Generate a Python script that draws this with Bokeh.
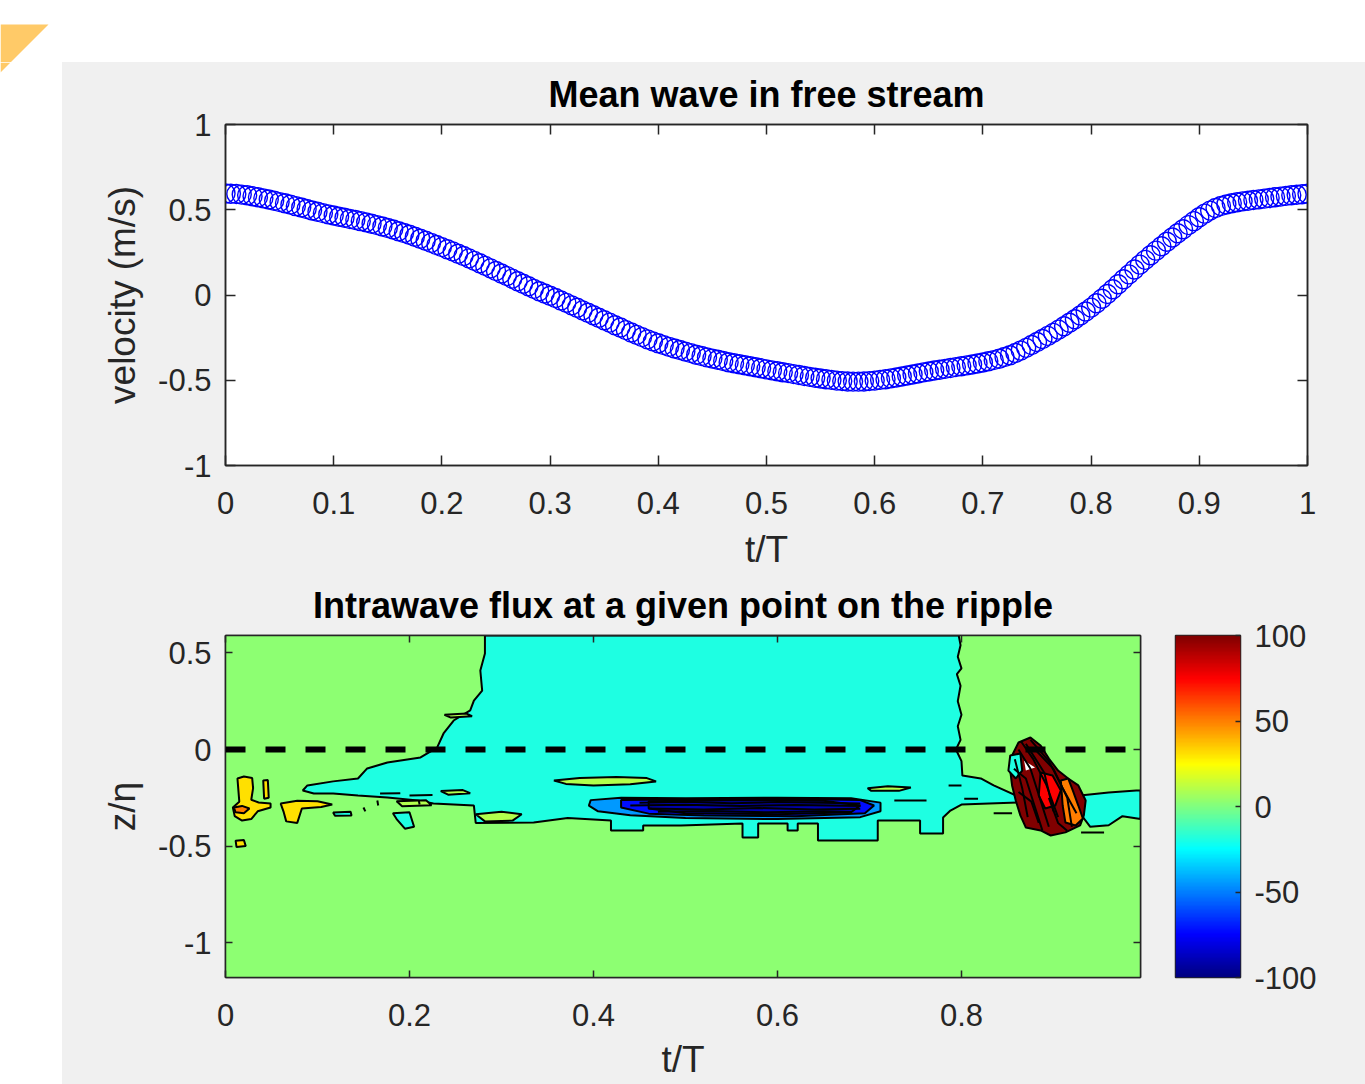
import numpy as np
from bokeh.plotting import figure
from bokeh.layouts import column, row
from bokeh.models import (Range1d, LinearAxis, FixedTicker, NumeralTickFormatter,
                          CustomJSTickFormatter, LinearColorMapper, ColumnDataSource, Span)
from bokeh.transform import transform
from bokeh.embed import file_html
from bokeh.resources import INLINE

# ---------------------------------------------------------------- data
wave_t = [round(i * 0.005, 3) for i in range(201)]
wave_velocity = [
    0.595, 0.594, 0.592, 0.589, 0.585, 0.579, 0.573, 0.567, 0.560, 0.553,
    0.545, 0.538, 0.530, 0.521, 0.513, 0.504, 0.496, 0.488, 0.480, 0.473,
    0.466, 0.459, 0.453, 0.446, 0.440, 0.433, 0.426, 0.418, 0.410, 0.402,
    0.393, 0.384, 0.374, 0.364, 0.353, 0.342, 0.330, 0.318, 0.306, 0.293,
    0.281, 0.268, 0.256, 0.242, 0.229, 0.215, 0.200, 0.186, 0.171, 0.156,
    0.141, 0.126, 0.111, 0.096, 0.081, 0.066, 0.051, 0.036, 0.022, 0.009,
    -0.004, -0.018, -0.032, -0.046, -0.061, -0.075, -0.090, -0.104, -0.119, -0.133,
    -0.148, -0.162, -0.177, -0.191, -0.206, -0.220, -0.234, -0.247, -0.260, -0.272,
    -0.283, -0.294, -0.304, -0.314, -0.323, -0.332, -0.341, -0.350, -0.358, -0.366,
    -0.373, -0.380, -0.387, -0.394, -0.400, -0.406, -0.412, -0.418, -0.424, -0.430,
    -0.436, -0.442, -0.447, -0.453, -0.458, -0.464, -0.469, -0.475, -0.480, -0.485,
    -0.490, -0.494, -0.498, -0.502, -0.505, -0.507, -0.508, -0.508, -0.507, -0.505,
    -0.502, -0.498, -0.494, -0.489, -0.484, -0.478, -0.472, -0.466, -0.460, -0.454,
    -0.449, -0.443, -0.438, -0.433, -0.428, -0.423, -0.418, -0.413, -0.408, -0.402,
    -0.396, -0.389, -0.382, -0.374, -0.364, -0.353, -0.340, -0.326, -0.310, -0.293,
    -0.276, -0.258, -0.240, -0.222, -0.203, -0.183, -0.163, -0.142, -0.120, -0.097,
    -0.074, -0.048, -0.022, 0.006, 0.034, 0.063, 0.092, 0.121, 0.150, 0.178,
    0.206, 0.233, 0.260, 0.286, 0.312, 0.337, 0.362, 0.386, 0.410, 0.433,
    0.456, 0.477, 0.495, 0.510, 0.522, 0.531, 0.538, 0.544, 0.549, 0.553,
    0.557, 0.561, 0.565, 0.569, 0.573, 0.577, 0.581, 0.585, 0.588, 0.591,
    0.594,
]

top_x_ticks = [0, 0.1, 0.2, 0.3, 0.4, 0.5, 0.6, 0.7, 0.8, 0.9, 1]
top_y_ticks = [-1, -0.5, 0, 0.5, 1]
bottom_x_ticks = [0, 0.2, 0.4, 0.6, 0.8]
bottom_y_ticks = [-1, -0.5, 0, 0.5]
colorbar_ticks = [-100, -50, 0, 50, 100]

field_t_extent = [0.0, 0.9946]
field_z_extent = [-1.18, 0.59]

# flux levels of the filled contour regions
level_background = 3
level_cyan = -19
level_lens = 10
level_blue_outer = -45
level_blue_mid = -72
level_blue_inner = -90
level_yellow = 31
level_orange = 50
level_red = 75
level_darkred = 100

# region outlines as (t/T, z/eta)
cyan_main = [(0.282, 0.590), (0.797, 0.590), (0.799, 0.540), (0.796, 0.480), (0.800, 0.420),
             (0.795, 0.390), (0.799, 0.330), (0.796, 0.250), (0.800, 0.180), (0.796, 0.120),
             (0.799, 0.050), (0.794, 0.000), (0.800, -0.060), (0.801, -0.135), (0.821, -0.150),
             (0.835, -0.186), (0.864, -0.248), (0.864, -0.274), (0.830, -0.280), (0.800, -0.285),
             (0.788, -0.316), (0.780, -0.352), (0.780, -0.435), (0.755, -0.435), (0.755, -0.367),
             (0.709, -0.367), (0.709, -0.471), (0.644, -0.471), (0.644, -0.383), (0.622, -0.383),
             (0.622, -0.419), (0.611, -0.419), (0.611, -0.383), (0.579, -0.383), (0.579, -0.455),
             (0.562, -0.455), (0.562, -0.383), (0.495, -0.393), (0.454, -0.393), (0.454, -0.419),
             (0.419, -0.419), (0.419, -0.367), (0.372, -0.355), (0.335, -0.378), (0.272, -0.380),
             (0.270, -0.290), (0.226, -0.279), (0.209, -0.264), (0.176, -0.248), (0.144, -0.238),
             (0.117, -0.228), (0.096, -0.228), (0.084, -0.212), (0.089, -0.186), (0.117, -0.165),
             (0.144, -0.150), (0.154, -0.098), (0.176, -0.067), (0.212, -0.041), (0.230, 0.010),
             (0.237, 0.083), (0.248, 0.150), (0.266, 0.202), (0.270, 0.253), (0.279, 0.305),
             (0.277, 0.409), (0.282, 0.497)]
cyan_right = [(0.929, -0.238), (0.960, -0.222), (0.990, -0.212), (0.9946, -0.212), (0.9946, -0.360),
              (0.975, -0.345), (0.960, -0.392), (0.940, -0.400), (0.932, -0.350)]
cyan_dot_a = [(0.117, -0.326), (0.136, -0.322), (0.137, -0.341), (0.119, -0.343)]
cyan_dot_b = [(0.182, -0.330), (0.200, -0.325), (0.205, -0.400), (0.195, -0.410), (0.186, -0.360)]

lens_a = [(0.357, -0.160), (0.385, -0.147), (0.425, -0.142), (0.458, -0.148), (0.468, -0.165),
          (0.440, -0.180), (0.400, -0.186), (0.370, -0.178)]
lens_b = [(0.272, -0.335), (0.300, -0.322), (0.322, -0.335), (0.312, -0.368), (0.282, -0.372)]
lens_c = [(0.698, -0.200), (0.720, -0.190), (0.745, -0.197), (0.732, -0.214), (0.702, -0.214)]
lens_d = [(0.234, -0.215), (0.258, -0.210), (0.266, -0.226), (0.242, -0.234)]
lens_e = [(0.186, -0.268), (0.218, -0.263), (0.224, -0.288), (0.192, -0.294)]
lens_f = [(0.238, 0.180), (0.262, 0.186), (0.268, 0.172), (0.245, 0.165)]

band_outer = [(0.397, -0.262), (0.430, -0.250), (0.500, -0.252), (0.600, -0.250), (0.680, -0.252),
              (0.712, -0.275), (0.712, -0.320), (0.690, -0.350), (0.600, -0.360), (0.500, -0.355),
              (0.440, -0.340), (0.405, -0.320), (0.395, -0.290)]
band_mid = [(0.430, -0.262), (0.520, -0.258), (0.620, -0.256), (0.690, -0.262), (0.705, -0.290),
            (0.695, -0.330), (0.620, -0.345), (0.520, -0.342), (0.460, -0.332), (0.430, -0.300)]
band_inner = [(0.460, -0.268), (0.560, -0.262), (0.650, -0.265), (0.690, -0.290), (0.680, -0.325),
              (0.600, -0.335), (0.500, -0.330), (0.460, -0.305)]

yellow_a = [(0.013, -0.150), (0.020, -0.140), (0.029, -0.148), (0.030, -0.200), (0.028, -0.260),
            (0.036, -0.274), (0.049, -0.280), (0.049, -0.300), (0.035, -0.320), (0.028, -0.360),
            (0.018, -0.368), (0.010, -0.345), (0.008, -0.300), (0.015, -0.270), (0.014, -0.210)]
orange_a = [(0.009, -0.300), (0.018, -0.292), (0.026, -0.305), (0.020, -0.330), (0.011, -0.325)]
yellow_b = [(0.041, -0.160), (0.046, -0.158), (0.047, -0.250), (0.042, -0.255)]
yellow_c = [(0.060, -0.280), (0.078, -0.265), (0.100, -0.268), (0.116, -0.285), (0.104, -0.298),
            (0.083, -0.305), (0.078, -0.380), (0.066, -0.372), (0.063, -0.320)]
yellow_d = [(0.011, -0.472), (0.020, -0.468), (0.022, -0.500), (0.012, -0.505)]

blob_outer = [(0.862, 0.036), (0.875, 0.062), (0.886, 0.021), (0.895, -0.047), (0.905, -0.109),
              (0.916, -0.150), (0.927, -0.186), (0.935, -0.264), (0.933, -0.341), (0.929, -0.393),
              (0.913, -0.429), (0.897, -0.445), (0.886, -0.419), (0.870, -0.404), (0.864, -0.341),
              (0.859, -0.264), (0.855, -0.186), (0.853, -0.109), (0.855, -0.031)]
blob_red = [(0.886, -0.119), (0.899, -0.135), (0.908, -0.212), (0.902, -0.290), (0.891, -0.305),
            (0.884, -0.238)]
blob_orange = [(0.908, -0.160), (0.916, -0.150), (0.921, -0.212), (0.927, -0.290), (0.932, -0.357),
               (0.924, -0.393), (0.913, -0.378), (0.910, -0.290)]
blob_cyan = [(0.853, -0.031), (0.864, -0.021), (0.866, -0.109), (0.859, -0.150), (0.851, -0.109)]
blob_white = [(0.868, -0.057), (0.880, -0.093), (0.870, -0.109)]

contour_fragments = [
    [(0.168, -0.228), (0.190, -0.226)], [(0.200, -0.238), (0.225, -0.236)],
    [(0.165, -0.264), (0.166, -0.290)], [(0.210, -0.262), (0.211, -0.285)],
    [(0.150, -0.300), (0.152, -0.320)], [(0.930, -0.430), (0.955, -0.430)],
    [(0.835, -0.330), (0.855, -0.330)], [(0.786, -0.186), (0.800, -0.186)],
    [(0.727, -0.264), (0.762, -0.264)], [(0.803, -0.255), (0.818, -0.255)],
    [(0.862, 0.000), (0.875, -0.100), (0.885, -0.250), (0.895, -0.400)],
    [(0.870, 0.030), (0.890, -0.120), (0.900, -0.320)],
    [(0.880, 0.000), (0.900, -0.100), (0.915, -0.250), (0.920, -0.400)],
    [(0.858, -0.050), (0.866, -0.200), (0.872, -0.350)],
    [(0.865, 0.040), (0.878, -0.050), (0.892, -0.180), (0.905, -0.350)],
    [(0.875, 0.050), (0.895, -0.060), (0.910, -0.200), (0.925, -0.330)],
    [(0.857, -0.100), (0.870, -0.150), (0.880, -0.300), (0.888, -0.420)],
    [(0.862, -0.220), (0.876, -0.270), (0.884, -0.380)],
    [(0.895, -0.250), (0.905, -0.380), (0.915, -0.420)],
    [(0.450, -0.275), (0.500, -0.270), (0.550, -0.278), (0.600, -0.272), (0.650, -0.276), (0.690, -0.280)],
    [(0.440, -0.290), (0.500, -0.286), (0.560, -0.292), (0.620, -0.287), (0.690, -0.292)],
    [(0.460, -0.305), (0.520, -0.310), (0.580, -0.303), (0.640, -0.310), (0.690, -0.306)],
    [(0.470, -0.322), (0.530, -0.318), (0.590, -0.325), (0.650, -0.320), (0.680, -0.324)],
]

filled_regions = [
    (level_cyan, cyan_main), (level_cyan, cyan_right), (level_cyan, cyan_dot_a), (level_cyan, cyan_dot_b),
    (level_lens, lens_a), (level_lens, lens_b), (level_lens, lens_c), (level_lens, lens_d),
    (level_lens, lens_e), (level_lens, lens_f),
    (level_blue_outer, band_outer), (level_blue_mid, band_mid), (level_blue_inner, band_inner),
    (level_yellow, yellow_a), (level_orange, orange_a), (level_yellow, yellow_b),
    (level_yellow, yellow_c), (level_yellow, yellow_d),
    (level_darkred, blob_outer), (level_red, blob_red), (level_orange, blob_orange),
    (level_cyan, blob_cyan),
]

# ---------------------------------------------------------------- helpers
FONT = "Liberation Sans"
AX = "#262626"
PANEL = "#f0f0f0"


def jet_palette(n=256):
    out = []
    for i in range(n):
        f = i / (n - 1)
        r = min(max(1.5 - abs(4 * f - 3), 0), 1)
        g = min(max(1.5 - abs(4 * f - 2), 0), 1)
        b = min(max(1.5 - abs(4 * f - 1), 0), 1)
        out.append("#%02x%02x%02x" % (round(r * 255), round(g * 255), round(b * 255)))
    return out


JET = jet_palette(256)
mapper = LinearColorMapper(palette=JET, low=colorbar_ticks[0], high=colorbar_ticks[-1])


def style_axis(ax, ticks, tick_len, fmt="0.[0]", label_standoff=14, tick_standoff=14):
    ax.ticker = FixedTicker(ticks=ticks)
    ax.formatter = NumeralTickFormatter(format=fmt)
    ax.major_tick_in = tick_len
    ax.major_tick_out = 0
    ax.minor_tick_line_color = None
    ax.major_tick_line_color = AX
    ax.major_tick_line_width = 1.5
    ax.axis_line_color = AX
    ax.axis_line_width = 1.5
    ax.major_label_text_font = FONT
    ax.major_label_text_font_size = "31px"
    ax.major_label_text_color = AX
    ax.major_label_standoff = tick_standoff
    ax.axis_label_text_font = FONT
    ax.axis_label_text_font_size = "37px"
    ax.axis_label_text_font_style = "normal"
    ax.axis_label_text_color = AX
    ax.axis_label_standoff = label_standoff


def box_axis(p, ticks, tick_len, side):
    ax = LinearAxis(ticker=FixedTicker(ticks=ticks),
                    formatter=CustomJSTickFormatter(code="return ''"),
                    major_tick_in=tick_len, major_tick_out=0, minor_tick_line_color=None,
                    major_tick_line_color=AX, major_tick_line_width=1.5,
                    axis_line_color=AX, axis_line_width=1.5,
                    major_label_text_font_size="0px", major_label_standoff=0)
    p.add_layout(ax, side)


def blank(w, h):
    f = figure(width=w, height=h, x_range=Range1d(0, w), y_range=Range1d(h, 0),
               x_axis_location=None, y_axis_location=None, toolbar_location=None,
               output_backend="svg", min_border=0, outline_line_color=None,
               background_fill_color="white", border_fill_color="white")
    f.grid.visible = False
    return f


def style_title(p, text, standoff):
    p.title.text = text
    p.title.align = "center"
    p.title.text_font = FONT
    p.title.text_font_size = "36px"
    p.title.text_font_style = "bold"
    p.title.text_color = "black"
    p.title.standoff = standoff


# ---------------------------------------------------------------- top: mean wave
p1 = figure(x_range=Range1d(0, 1), y_range=Range1d(-1, 1),
            frame_width=1082, frame_height=341,
            min_border_left=163, min_border_right=58, min_border_top=62, min_border_bottom=107,
            toolbar_location=None, output_backend="svg",
            background_fill_color="white", border_fill_color=PANEL,
            outline_line_color=AX, outline_line_width=1.5)
p1.grid.visible = False
style_title(p1, "Mean wave in free stream", 19)
style_axis(p1.xaxis[0], top_x_ticks, 10, tick_standoff=26, label_standoff=12)
style_axis(p1.yaxis[0], top_y_ticks, 10, tick_standoff=14, label_standoff=12)
p1.xaxis.axis_label = "t/T"
p1.yaxis.axis_label = "velocity (m/s)"
box_axis(p1, top_x_ticks, 10, "above")
box_axis(p1, top_y_ticks, 10, "right")
p1.scatter(wave_t, wave_velocity, marker="circle", size=19, fill_color=None,
           line_color="#0000ff", line_width=1.4)

# ---------------------------------------------------------------- bottom: intrawave flux
p2 = figure(x_range=Range1d(*field_t_extent), y_range=Range1d(*field_z_extent),
            frame_width=915, frame_height=342,
            min_border_left=163, min_border_right=20, min_border_top=63, min_border_bottom=107,
            toolbar_location=None, output_backend="svg",
            background_fill_color="white", border_fill_color=PANEL,
            outline_line_color=AX, outline_line_width=1.5)
p2.grid.visible = False
style_title(p2, "Intrawave flux at a given point on the ripple", 20)
style_axis(p2.xaxis[0], bottom_x_ticks, 7, tick_standoff=26, label_standoff=10)
style_axis(p2.yaxis[0], bottom_y_ticks, 7, tick_standoff=14, label_standoff=12)
p2.xaxis.axis_label = "t/T"
p2.yaxis.axis_label = "z/η"
box_axis(p2, bottom_x_ticks, 7, "above")
box_axis(p2, bottom_y_ticks, 7, "right")

bg_src = ColumnDataSource(dict(
    xs=[[field_t_extent[0], field_t_extent[1], field_t_extent[1], field_t_extent[0]]],
    ys=[[field_z_extent[1], field_z_extent[1], field_z_extent[0], field_z_extent[0]]],
    level=[level_background]))
p2.patches("xs", "ys", source=bg_src, fill_color=transform("level", mapper), line_color=None)

reg_src = ColumnDataSource(dict(
    xs=[[pt[0] for pt in poly] for _, poly in filled_regions],
    ys=[[pt[1] for pt in poly] for _, poly in filled_regions],
    level=[lev for lev, _ in filled_regions]))
p2.patches("xs", "ys", source=reg_src, fill_color=transform("level", mapper),
           line_color="black", line_width=2)
p2.patch([pt[0] for pt in blob_white], [pt[1] for pt in blob_white],
         fill_color="white", line_color=None)
p2.multi_line([[pt[0] for pt in seg] for seg in contour_fragments],
              [[pt[1] for pt in seg] for seg in contour_fragments],
              line_color="black", line_width=2)
p2.add_layout(Span(location=0, dimension="width", line_color="black",
                   line_width=6, line_dash="20 20"))

# ---------------------------------------------------------------- colorbar
p3 = figure(x_range=Range1d(0, 1), y_range=Range1d(colorbar_ticks[0], colorbar_ticks[-1]),
            frame_width=65, frame_height=342,
            min_border_left=15, min_border_right=125, min_border_top=63, min_border_bottom=107,
            x_axis_location=None, y_axis_location="right",
            toolbar_location=None, output_backend="svg",
            border_fill_color=PANEL, outline_line_color=AX, outline_line_width=1.5)
p3.grid.visible = False
ramp = np.linspace(colorbar_ticks[0], colorbar_ticks[-1], 256).reshape(256, 1)
p3.image(image=[ramp], x=0, y=colorbar_ticks[0], dw=1, dh=colorbar_ticks[-1] - colorbar_ticks[0],
         color_mapper=mapper)
style_axis(p3.yaxis[0], colorbar_ticks, 5, fmt="0", tick_standoff=14)
p3.yaxis[0].axis_line_color = None

# ---------------------------------------------------------------- page frame
top_band = blank(1365, 62)
top_band.patch([0, 48, 10, 0], [24, 24, 62, 62], fill_color="#ffca68", line_color=None)
left_band = blank(62, 1022)
left_band.patch([0, 10, 0], [0, 0, 10], fill_color="#ffca68", line_color=None)

bottom_row = row(p2, p3, styles={"background-color": PANEL})
panel = column(p1, bottom_row, styles={"background-color": PANEL})
layout = column(top_band, row(left_band, panel))

with open("out.html", "w") as fh:
    fh.write(file_html(layout, INLINE))
